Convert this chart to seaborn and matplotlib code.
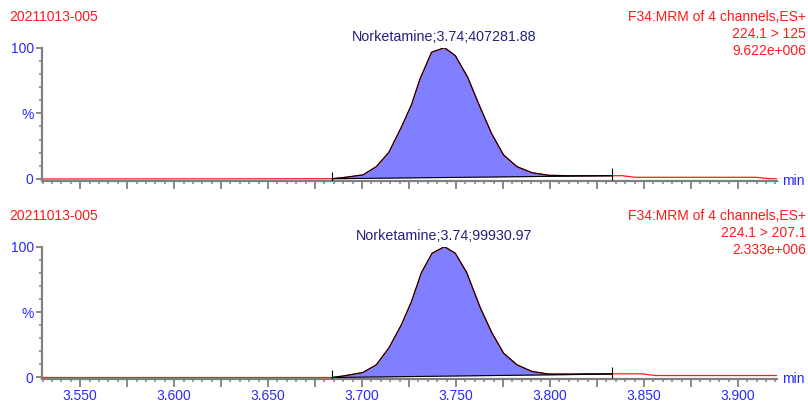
import numpy as np
import pandas as pd
import matplotlib
matplotlib.use("Agg")
import matplotlib.pyplot as plt
from matplotlib.ticker import FixedLocator, MultipleLocator
import seaborn as sns

sns.set_theme(style="white")
plt.rcParams['font.family'] = ['Liberation Sans', 'DejaVu Sans']

# ---------------- data ----------------
sample_name = "20211013-005"
function_label = "F34:MRM of 4 channels,ES+"
transitions = ["224.1 > 125", "224.1 > 207.1"]
max_intensity = ["9.622e+006", "2.333e+006"]
compound = "Norketamine"
peak_rt = [3.74, 3.74]
peak_area = ["407281.88", "99930.97"]
apex_time = [3.7439, 3.7439]

time_top = [3.530, 3.684, 3.6907, 3.7005, 3.7076, 3.7142, 3.7209, 3.7263, 3.7308,
            3.7370, 3.7439, 3.7496, 3.7562, 3.7628, 3.7690, 3.7753, 3.7824,
            3.7904, 3.7993, 3.8100, 3.8328, 3.8385, 3.8454, 3.9095, 3.9170, 3.921]
inten_top = [0.0, 0.2, 1.2, 3.1, 9.4, 20.1, 39.4, 56.5, 76.0,
             96.5, 100.0, 94.0, 77.5, 54.7, 34.4, 18.3, 9.4,
             4.8, 2.8, 2.5, 2.5, 2.5, 1.3, 1.3, 0.2, 0.2]

time_bot = [3.530, 3.684, 3.6907, 3.7005, 3.7076, 3.7142, 3.7209, 3.7263, 3.7316,
            3.7373, 3.7439, 3.7496, 3.7557, 3.7628, 3.7690, 3.7753, 3.7824,
            3.7904, 3.7993, 3.8100, 3.8328, 3.8490, 3.8560, 3.921]
inten_bot = [0.0, 0.0, 1.3, 3.8, 9.7, 22.4, 40.2, 58.0, 80.2,
             95.0, 100.0, 95.0, 80.2, 53.7, 34.4, 18.6, 9.7,
             4.6, 2.6, 2.6, 2.8, 2.8, 1.5, 1.5]

integ_start = [3.684, 3.684]
integ_end = [3.8328, 3.8328]
base_start = [0.2, 0.0]
base_end = [2.5, 2.6]

x_tick_values = [3.550, 3.600, 3.650, 3.700, 3.750, 3.800, 3.850, 3.900]
x_tick_labels = ["3.550", "3.600", "3.650", "3.700", "3.750", "3.800", "3.850", "3.900"]
y_tick_values = [0, 50, 100]
y_tick_labels = ["0", "%", "100"]

# ---------------- style ----------------
RED = "#ff1a1a"
BLUE = "#2a2aff"
NAVY = "#22227a"
FILL = "#7f7fff"
GREY = "#808080"

W, H = 808, 403
fig = plt.figure(figsize=(W / 100, H / 100), dpi=100)

def frac_rect(left, top, right, bottom):
    return [left / W, 1 - bottom / H, (right - left) / W, (bottom - top) / H]

axes = [fig.add_axes(frac_rect(42, 47.7, 777, 180.5)),
        fig.add_axes(frac_rect(42, 246.7, 777, 379))]
traces = [(time_top, inten_top), (time_bot, inten_bot)]
head_y = [17, 216]

for i, ax in enumerate(axes):
    t = np.array(traces[i][0])
    v = np.array(traces[i][1])
    df = pd.DataFrame({"time": t, "intensity": v})
    sns.lineplot(data=df, x="time", y="intensity", ax=ax, color=RED, lw=0.9,
                 sort=False, estimator=None, zorder=2)

    s, e = integ_start[i], integ_end[i]
    mask = (t >= s - 1e-9) & (t <= e + 1e-9)
    base = np.interp(t, [s, e], [base_start[i], base_end[i]])
    ax.fill_between(t[mask], base[mask], v[mask], color=FILL, lw=0, zorder=1)
    ax.plot(t[mask], v[mask], color="black", lw=0.8, zorder=3)
    ax.plot([s, e], [base_start[i], base_end[i]], color="black", lw=0.8, zorder=3)
    ax.vlines([s, e], [base_start[i] - 3, base_end[i] - 3],
              [base_start[i] + 5.5, base_end[i] + 5.5], color="black", lw=0.8, zorder=3)

    ax.set_xlim(3.5297, 3.9208)
    ax.set_ylim(-1.15, 100)
    ax.set_xlabel("")
    ax.set_ylabel("")
    for sp in ["top", "right"]:
        ax.spines[sp].set_visible(False)
    for sp in ["left", "bottom"]:
        ax.spines[sp].set_color(GREY)
        ax.spines[sp].set_linewidth(1.6)

    # x ticks: major every 0.025 (labelled every 0.05), minor every 0.005
    majors = list(np.round(np.arange(3.525, 3.93, 0.025), 3))
    labels = []
    for m in majors:
        lab = ""
        for tv, tl in zip(x_tick_values, x_tick_labels):
            if abs(tv - m) < 1e-6:
                lab = tl
        labels.append(lab)
    ax.xaxis.set_major_locator(FixedLocator(majors))
    ax.set_xticklabels(labels if i == 1 else [""] * len(majors))
    ax.xaxis.set_minor_locator(MultipleLocator(0.005))
    ax.tick_params(axis="x", which="major", direction="out", length=6, width=1.3,
                   color=GREY, labelcolor=BLUE, labelsize=10, pad=1.5, bottom=True)
    ax.tick_params(axis="x", which="minor", direction="out", length=2.5, width=1.1,
                   color=GREY, bottom=True)

    ax.yaxis.set_major_locator(FixedLocator(y_tick_values))
    ax.set_yticklabels(y_tick_labels)
    ax.yaxis.set_minor_locator(MultipleLocator(10))
    ax.tick_params(axis="y", which="major", direction="out", length=4.5, width=1.3,
                   color=GREY, labelcolor=BLUE, labelsize=10, pad=1.5, left=True)
    ax.tick_params(axis="y", which="minor", direction="out", length=2.5, width=1.1,
                   color=GREY, left=True)

    ax.text(1.007, 0.0, "min", transform=ax.transAxes, color=BLUE, fontsize=10,
            ha="left", va="center")

    ax.annotate(f"{compound};{peak_rt[i]:.2f};{peak_area[i]}",
                xy=(apex_time[i], 100), xytext=(0, 7.5), textcoords="offset points",
                ha="center", va="center", color=NAVY, fontsize=10.3, annotation_clip=False)

    hy = head_y[i]
    fig.text(9 / W, 1 - hy / H, sample_name, color=RED, fontsize=10,
             ha="left", va="center")
    right_lines = [function_label, transitions[i], max_intensity[i]]
    for k, line in enumerate(right_lines):
        fig.text(806 / W, 1 - (hy + 17 * k) / H, line, color=RED, fontsize=10,
                 ha="right", va="center")

fig.savefig("out.png", dpi=100)
